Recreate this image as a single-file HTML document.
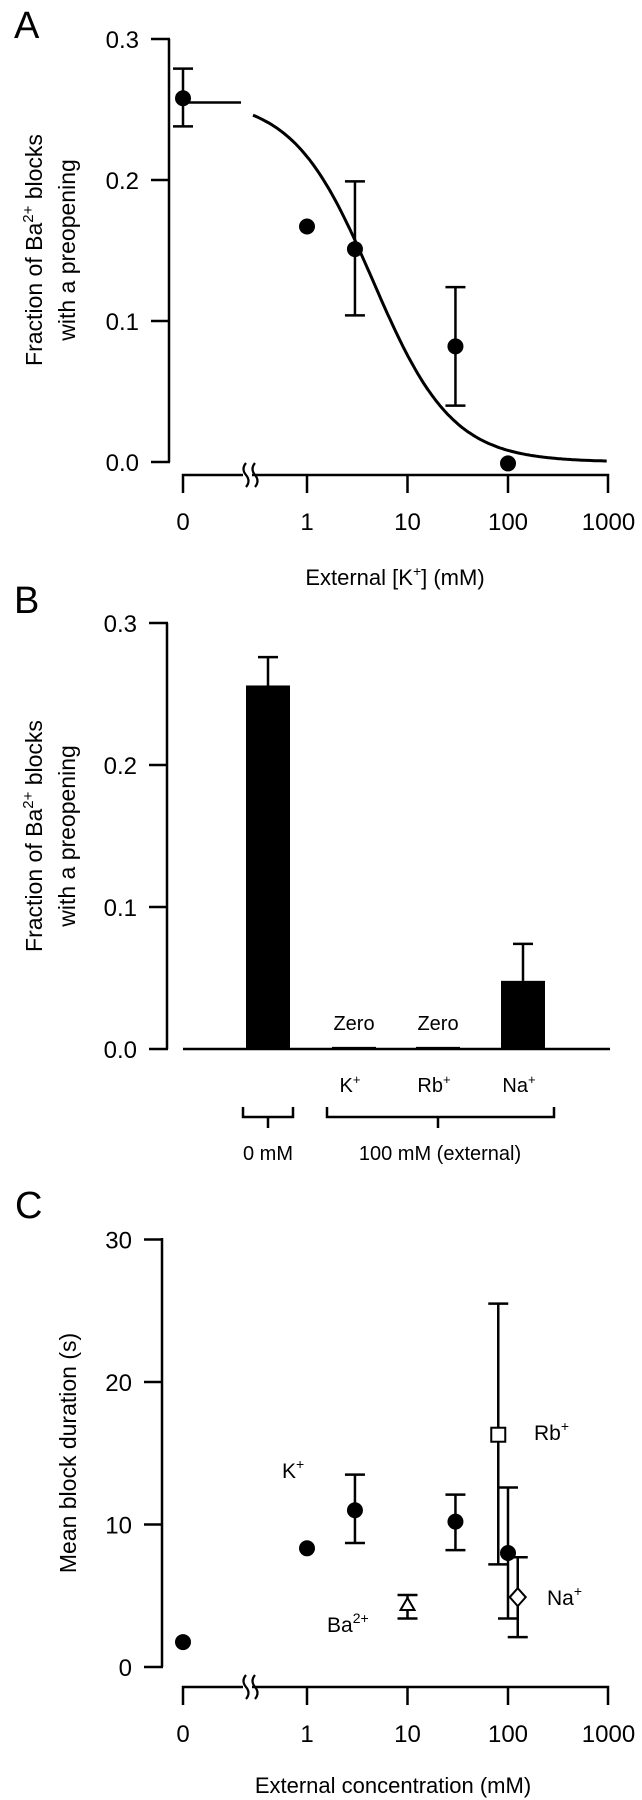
<!DOCTYPE html>
<html><head><meta charset="utf-8"><style>
html,body{margin:0;padding:0;background:#fff;}
svg{display:block;font-family:"Liberation Sans",Arial,sans-serif;}
</style></head><body>
<svg id="fig" width="642" height="1800" viewBox="0 0 642 1800">
<g id="pa"></g>
<g id="pb"></g>
<g id="pc"></g>
</svg>
<script>
// Panel A data
const aConc = [0, 1, 3, 30, 100];
const aFrac = [0.258, 0.167, 0.151, 0.082, -0.001];
const aErrLo = [0.238, null, 0.104, 0.040, null];
const aErrHi = [0.279, null, 0.199, 0.124, null];
const aFitK = [4.5];
const aFitN = [1.1];
const aFitMax = [0.258];
const aYTicks = [0, 0.1, 0.2, 0.3];
const aYLabels = ["0.0", "0.1", "0.2", "0.3"];
const xTickVals = [0, 1, 10, 100, 1000];
const xTickLabels = ["0", "1", "10", "100", "1000"];
// Panel B data
const bCats = ["0 mM", "K+", "Rb+", "Na+"];
const bVals = [0.256, 0.0015, 0.0015, 0.048];
const bErr = [0.276, null, null, 0.074];
const bYTicks = [0, 0.1, 0.2, 0.3];
const bYLabels = ["0.0", "0.1", "0.2", "0.3"];
// Panel C data
const cKConc = [0, 1, 3, 30, 100];
const cKVal = [1.75, 8.33, 11.0, 10.2, 8.0];
const cKLo = [1.55, null, 8.7, 8.2, 3.4];
const cKHi = [1.95, null, 13.5, 12.1, 12.6];
const cRb = [80, 16.3, 7.2, 25.5];
const cNa = [125, 4.9, 2.1, 7.7];
const cBa = [10, 4.35, 3.4, 5.05];
const cYTicks = [0, 10, 20, 30];
const cYLabels = ["0", "10", "20", "30"];

const NS = "http://www.w3.org/2000/svg";
function mk(parent, tag, attrs) {
  const e = document.createElementNS(NS, tag);
  for (const k in attrs) e.setAttribute(k, attrs[k]);
  parent.appendChild(e);
  return e;
}
const S = {stroke:"#000","stroke-width":2.5,fill:"none"};
function ln(p,x1,y1,x2,y2,w){return mk(p,"line",{x1,y1,x2,y2,stroke:"#000","stroke-width":w||2.5});}

// log x scale shared by A and C
function xs(c){ return c<=0 ? 183 : 307 + Math.log10(c)*100.5; }

function drawXAxis(g, y0){
  const ax = mk(g,"path",{d:`M183 ${y0+18} V${y0} H243 M252 ${y0} H608 V${y0+18}`, ...S});
  
  
  const br = mk(g,"path",{d:`M246 ${y0-12} q-5 6 0 12 q5 6 0 12 M255 ${y0-12} q-5 6 0 12 q5 6 0 12`, ...S, "stroke-width":2.2});
  
  
  xTickVals.forEach((v,i)=>{
    const x = xs(v);
    if (i>0 && i<xTickVals.length-1) ln(g,x,y0,x,y0+18);
    const t = mk(g,"text",{x, y:y0+55, "font-size":24, "text-anchor":"middle"});
    t.textContent = xTickLabels[i];
    
    
  });
}
function drawYAxis(g, ax, yScale, ticks, labels, yTop, yBot){
  const a = ln(g, ax, yTop, ax, yBot);
  
  
  ticks.forEach((v,i)=>{
    const y = yScale(v);
    ln(g, ax-18, y, ax+1, y);
    const t = mk(g,"text",{x:ax-30, y:y+9, "font-size":24, "text-anchor":"end"});
    t.textContent = labels[i];
    
    
  });
}
function errBar(g,x,yl,yh,cap){
  cap = cap||10;
  const p = mk(g,"path",{d:`M${x} ${yl} V${yh} M${x-cap} ${yl} H${x+cap} M${x-cap} ${yh} H${x+cap}`, ...S});
  
  
}
function dot(g,x,y,name){
  const c = mk(g,"circle",{cx:x, cy:y, r:8, fill:"#000"});
  
  
}
function letter(g,x,y,s){
  const t = mk(g,"text",{x,y,"font-size":38});
  t.textContent = s;
  
  
}
function fracTitle(g, cy){
  const t1 = mk(g,"text",{transform:`translate(42 ${cy}) rotate(-90)`, "font-size":23, "text-anchor":"middle"});
  t1.innerHTML = 'Fraction of Ba<tspan dy="-9" font-size="15">2+</tspan><tspan dy="9"> blocks</tspan>';
  
  
  const t2 = mk(g,"text",{transform:`translate(75 ${cy}) rotate(-90)`, "font-size":23, "text-anchor":"middle"});
  t2.textContent = 'with a preopening';
  
  
}

// ---------- Panel A ----------
(function(){
  const g = document.getElementById('pa');
  const ys = v => 462 - v*1410;
  letter(g,14,38,"A");
  drawYAxis(g,169,ys,aYTicks,aYLabels,39,462);
  drawXAxis(g,475);
  fracTitle(g,250);
  // zero-conc horizontal reference line
  const h = ln(g, xs(0), ys(0.255), 241, ys(0.255));
  
  
  // fit curve
  let d = "";
  for (let lx=Math.log10(0.29); lx<=3.0001; lx+=0.02){
    const c = Math.pow(10,lx);
    const v = aFitMax[0]/(1+Math.pow(c/aFitK[0],aFitN[0]));
    d += (d?"L":"M") + xs(c).toFixed(1) + " " + ys(v).toFixed(1);
  }
  const fit = mk(g,"path",{d, ...S, "stroke-width":3});
  
  
  aConc.forEach((c,i)=>{
    if (aErrLo[i]!==null) errBar(g,xs(c),ys(aErrLo[i]),ys(aErrHi[i]));
    dot(g,xs(c),ys(aFrac[i]),'data-point');
  });
  const xt = mk(g,"text",{x:395, y:585, "font-size":22, "text-anchor":"middle"});
  xt.innerHTML = 'External [K<tspan dy="-9" font-size="14">+</tspan><tspan dy="9">] (mM)</tspan>';
  
  
})();

// ---------- Panel B ----------
(function(){
  const g = document.getElementById('pb');
  const ys = v => 1049 - v*1420;
  const bx = [268, 354, 438, 523];
  letter(g,14,613,"B");
  drawYAxis(g,167,ys,bYTicks,bYLabels,623,1049);
  fracTitle(g,836);
  const base = ln(g,183,1049,610,1049);
  
  
  bVals.forEach((v,i)=>{
    const r = mk(g,"rect",{x:bx[i]-22, y:ys(v), width:44, height:1049-ys(v), fill:"#000"});
    
    
    if (bErr[i]!==null){
      const p = mk(g,"path",{d:`M${bx[i]} ${ys(v)} V${ys(bErr[i])} M${bx[i]-10} ${ys(bErr[i])} H${bx[i]+10}`, ...S});
      
      
    }
    if (i>0 && v<0.005){
      const z = mk(g,"text",{x:bx[i], y:1030, "font-size":20, "text-anchor":"middle"});
      z.textContent = "Zero";
      
      
    }
    if (i>0){
      const t = mk(g,"text",{x:bx[i]-4, y:1092, "font-size":20, "text-anchor":"middle"});
      t.innerHTML = bCats[i].replace('+','') + '<tspan dy="-8" font-size="13">+</tspan>';
      
      
    }
  });
  const b1 = mk(g,"path",{d:"M243 1107 V1117 H293 V1107 M268 1117 V1128", ...S});
  
  
  const b2 = mk(g,"path",{d:"M327 1107 V1117 H554 V1107 M438 1117 V1128", ...S});
  
  
  const t1 = mk(g,"text",{x:268, y:1160, "font-size":20, "text-anchor":"middle"});
  t1.textContent = "0 mM";
  
  
  const t2 = mk(g,"text",{x:440, y:1160, "font-size":20, "text-anchor":"middle"});
  t2.textContent = "100 mM (external)";
  
  
})();

// ---------- Panel C ----------
(function(){
  const g = document.getElementById('pc');
  const ys = v => 1667 - v*14.25;
  letter(g,15,1218,"C");
  drawYAxis(g,162,ys,cYTicks,cYLabels,1238,1667);
  drawXAxis(g,1687);
  const yt = mk(g,"text",{transform:"translate(76 1453) rotate(-90)", "font-size":23, "text-anchor":"middle"});
  yt.textContent = "Mean block duration (s)";
  
  
  // Rb
  errBar(g,xs(cRb[0]),ys(cRb[2]),ys(cRb[3]));
  // K
  cKConc.forEach((c,i)=>{
    if (cKLo[i]!==null) errBar(g,xs(c),ys(cKLo[i]),ys(cKHi[i]), i===0?6:10);
    dot(g,xs(c),ys(cKVal[i]),'k-point');
  });
  const rb = mk(g,"rect",{x:xs(cRb[0])-7, y:ys(cRb[1])-7, width:14, height:14, fill:"#fff", stroke:"#000","stroke-width":2});
  
  
  // Na
  errBar(g,xs(cNa[0]),ys(cNa[2]),ys(cNa[3]));
  const nx = xs(cNa[0]), ny = ys(cNa[1]);
  const na = mk(g,"path",{d:`M${nx} ${ny-9} L${nx+8} ${ny} L${nx} ${ny+9} L${nx-8} ${ny} Z`, fill:"#fff", stroke:"#000","stroke-width":2});
  
  
  // Ba
  errBar(g,xs(cBa[0]),ys(cBa[2]),ys(cBa[3]));
  const bxp = xs(cBa[0]), byp = ys(cBa[1]);
  const ba = mk(g,"path",{d:`M${bxp} ${byp-7} L${bxp+7} ${byp+5} L${bxp-7} ${byp+5} Z`, fill:"#fff", stroke:"#000","stroke-width":2});
  
  
  const labels = [["K",282,1478,"+"],["Rb",534,1440,"+"],["Na",547,1605,"+"],["Ba",327,1632,"2+"]];
  labels.forEach(l=>{
    const t = mk(g,"text",{x:l[1], y:l[2], "font-size":21});
    t.innerHTML = l[0] + '<tspan dy="-9" font-size="14">' + l[3] + '</tspan>';
    
    
  });
  const xt = mk(g,"text",{x:393, y:1793, "font-size":22, "text-anchor":"middle"});
  xt.textContent = "External concentration (mM)";
  
  
})();
</script>
</body></html>
